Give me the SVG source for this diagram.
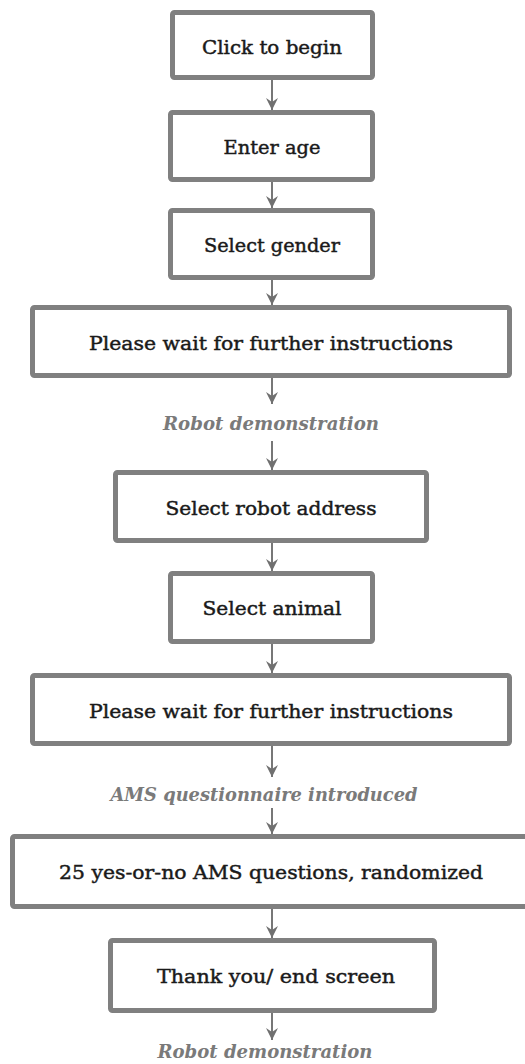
<svg xmlns="http://www.w3.org/2000/svg" width="525" height="1064" viewBox="0 0 525 1064">
<style>
.box{fill:#ffffff;stroke:#808080;stroke-width:5}
.t{font-family:"DejaVu Serif","Liberation Serif",serif;font-size:19px;fill:#1a1a1a;stroke:#1a1a1a;stroke-width:0.45;text-anchor:middle}
.lbl{font-family:"DejaVu Serif","Liberation Serif",serif;font-size:19px;font-style:italic;font-weight:bold;fill:#7a7a7a;text-anchor:middle}
.c{stroke:#777777;stroke-width:2;fill:none;marker-end:url(#ah)}
</style>
<defs>
<marker id="ah" markerUnits="userSpaceOnUse" markerWidth="12" markerHeight="12" viewBox="0 0 12 12" refX="12" refY="6" orient="auto">
<path d="M0,0 L12,6 L0,12 L4,6 z" fill="#707070"/>
</marker>
</defs>
<rect width="525" height="1064" fill="#ffffff"/>
<g id="connectors">
<line class="c" x1="272" y1="80" x2="272" y2="110"/>
<line class="c" x1="272" y1="182" x2="272" y2="208"/>
<line class="c" x1="272" y1="280" x2="272" y2="305"/>
<line class="c" x1="272" y1="378" x2="272" y2="404"/>
<line class="c" x1="272" y1="441" x2="272" y2="470"/>
<line class="c" x1="272" y1="543" x2="272" y2="571"/>
<line class="c" x1="272" y1="644" x2="272" y2="673"/>
<line class="c" x1="272" y1="746" x2="272" y2="777"/>
<line class="c" x1="272" y1="808" x2="272" y2="834"/>
<line class="c" x1="272" y1="909" x2="272" y2="938"/>
<line class="c" x1="272" y1="1013" x2="272" y2="1040"/>
</g>
<g id="n1"><rect class="box" x="172.5" y="12.5" width="200" height="65" rx="2"/><text class="t" x="272" y="54" textLength="140" lengthAdjust="spacingAndGlyphs">Click to begin</text></g>
<g id="n2"><rect class="box" x="170.5" y="112.5" width="202" height="67" rx="2"/><text class="t" x="272" y="154" textLength="97" lengthAdjust="spacingAndGlyphs">Enter age</text></g>
<g id="n3"><rect class="box" x="170.5" y="210.5" width="202" height="67" rx="2"/><text class="t" x="272" y="252" textLength="136" lengthAdjust="spacingAndGlyphs">Select gender</text></g>
<g id="n4"><rect class="box" x="32.5" y="307.5" width="477" height="68" rx="2"/><text class="t" x="271" y="350" textLength="364" lengthAdjust="spacingAndGlyphs">Please wait for further instructions</text></g>
<g id="l1"><text class="lbl" x="271" y="430" textLength="216" lengthAdjust="spacingAndGlyphs">Robot demonstration</text></g>
<g id="n5"><rect class="box" x="115.5" y="472.5" width="311" height="68" rx="2"/><text class="t" x="271" y="515" textLength="211" lengthAdjust="spacingAndGlyphs">Select robot address</text></g>
<g id="n6"><rect class="box" x="170.5" y="573.5" width="202" height="68" rx="2"/><text class="t" x="272" y="615" textLength="139" lengthAdjust="spacingAndGlyphs">Select animal</text></g>
<g id="n7"><rect class="box" x="32.5" y="675.5" width="477" height="68" rx="2"/><text class="t" x="271" y="718" textLength="364" lengthAdjust="spacingAndGlyphs">Please wait for further instructions</text></g>
<g id="l2"><text class="lbl" x="264" y="801" textLength="307" lengthAdjust="spacingAndGlyphs">AMS questionnaire introduced</text></g>
<g id="n8"><rect class="box" x="12.5" y="836.5" width="520" height="70" rx="2"/><text class="t" x="271" y="879" textLength="424" lengthAdjust="spacingAndGlyphs">25 yes-or-no AMS questions, randomized</text></g>
<g id="n9"><rect class="box" x="110.5" y="940.5" width="324" height="70" rx="2"/><text class="t" x="276" y="983" textLength="238" lengthAdjust="spacingAndGlyphs">Thank you/ end screen</text></g>
<g id="l3"><text class="lbl" x="265" y="1058" textLength="215" lengthAdjust="spacingAndGlyphs">Robot demonstration</text></g>
</svg>
